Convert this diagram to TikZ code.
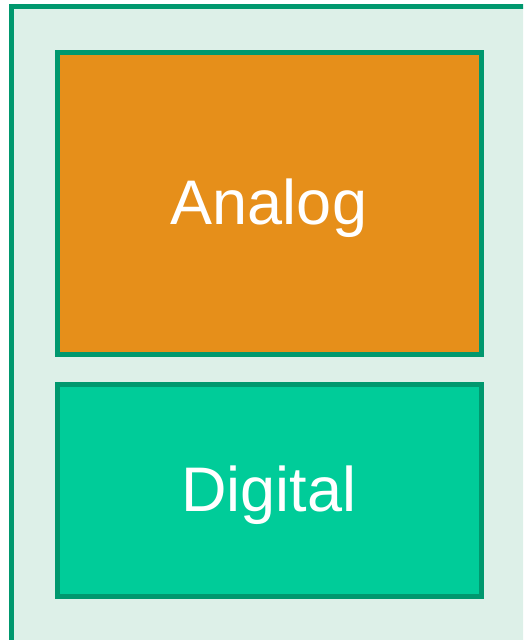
\documentclass[tikz,border=0pt]{standalone}
\usepackage{fontspec}
\setmainfont{Liberation Sans}
\definecolor{edgegreen}{RGB}{0,152,110}
\definecolor{paleback}{RGB}{221,240,232}
\definecolor{analogfill}{RGB}{230,143,26}
\definecolor{digitalfill}{RGB}{0,204,153}
\begin{document}
\begin{tikzpicture}[x=1pt,y=-1pt,
  panel/.style={draw=edgegreen,line width=5pt,outer sep=0pt,inner sep=0pt},
  lbl/.style={text=white,font=\fontsize{63}{70}\selectfont}]
\useasboundingbox (0,0) rectangle (523,640);
\clip (0,0) rectangle (523,640);
\draw[panel,fill=paleback] (11.5,6.5) rectangle (530,642);
\node[panel,fill=analogfill,minimum width=424pt,minimum height=302.5pt,anchor=north west] (analog) at (57,52) {};
\node[lbl] (analogtext) at ([yshift=-5pt]analog.center) {Analog};
\node[panel,fill=digitalfill,minimum width=424pt,minimum height=211.5pt,anchor=north west] (digital) at (57,384.5) {};
\node[lbl] (digitaltext) at ([yshift=-5pt]digital.center) {Digital};
\end{tikzpicture}
\end{document}
